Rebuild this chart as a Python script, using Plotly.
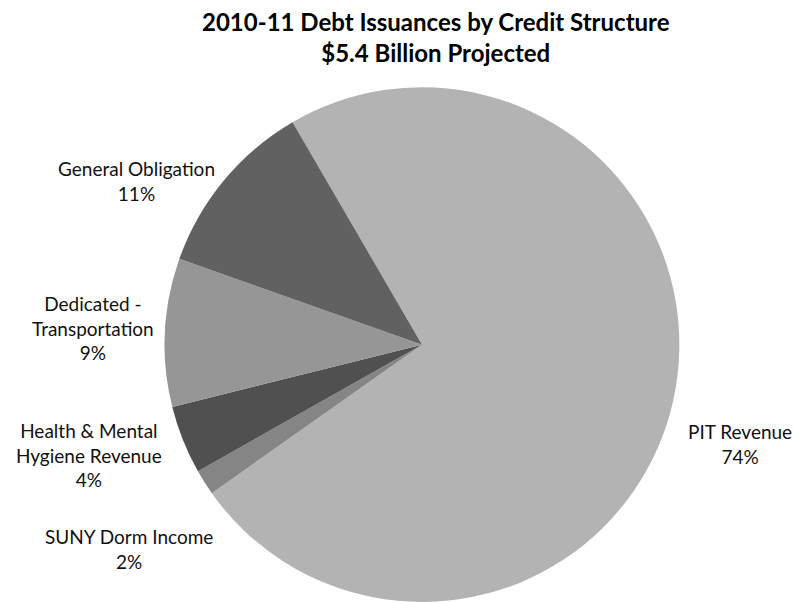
import plotly.graph_objects as go

# Projected 2010-11 debt issuances, share of $5.4 billion total (percent)
categories = ["PIT Revenue", "SUNY Dorm Income", "Health & Mental<br>Hygiene Revenue",
              "Dedicated -<br>Transportation", "General Obligation"]
shares = [73.6, 1.6, 4.3, 9.3, 11.2]
colors = ["#b3b3b3", "#858585", "#505050", "#969696", "#616161"]

# label anchor points (paper coordinates) for the outside labels
label_pos = [(0.932, 0.263), (0.1625, 0.088), (0.112, 0.244), (0.117, 0.455), (0.1725, 0.700)]

fig = go.Figure(go.Pie(
    labels=categories,
    values=shares,
    sort=False,
    direction="clockwise",
    rotation=-30.2,
    marker=dict(colors=colors, line=dict(width=0)),
    textinfo="none",
    hoverinfo="label+percent",
    showlegend=False,
    domain=dict(x=[163 / 794, 681 / 794], y=[0, 0.855]),
))

total = sum(shares)
font_family = "Lato, 'Open Sans', sans-serif"
for name, val, (x, y) in zip(categories, shares, label_pos):
    fig.add_annotation(
        x=x, y=y, xref="paper", yref="paper",
        xanchor="center", yanchor="middle",
        text=f"{name}<br>{round(val / total * 100):.0f}%",
        showarrow=False, align="center",
        font=dict(family=font_family, size=19, color="#111111"),
    )

fig.add_annotation(
    x=0.5485, y=0.992, xref="paper", yref="paper",
    xanchor="center", yanchor="top",
    text="<b>2010-11 Debt Issuances by Credit Structure<br>$5.4 Billion Projected</b>",
    showarrow=False, align="center",
    font=dict(family=font_family, size=24, color="#000000"),
)

fig.update_layout(
    width=794, height=602,
    margin=dict(l=0, r=0, t=0, b=0),
    paper_bgcolor="white",
    plot_bgcolor="white",
)

fig.write_html("out.html")
